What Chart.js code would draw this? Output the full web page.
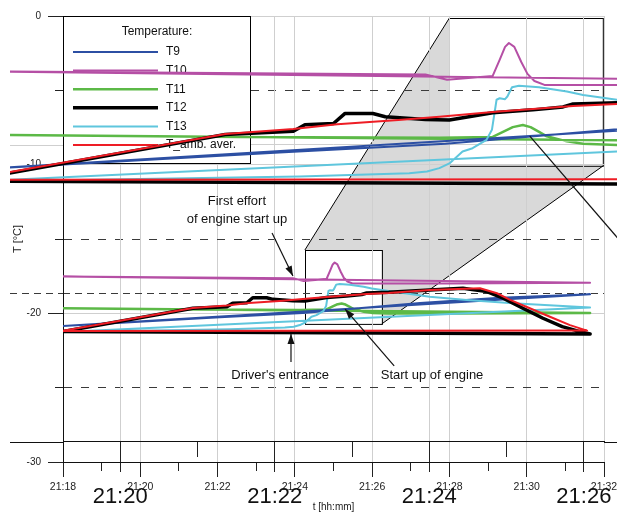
<!DOCTYPE html>
<html>
<head>
<meta charset="utf-8">
<title>Temperature T9 - T13</title>
<script src="https://cdn.jsdelivr.net/npm/chart.js@4/dist/chart.umd.min.js"></script>
<style>
  html, body { margin: 0; padding: 0; background: #fff; }
  #chart { display: block; }
</style>
</head>
<body>
<canvas id="chart" width="617" height="513"></canvas>
<script>
// ---------------- DATA ----------------
// points are [minutes after 21:18, temperature in °C]
const seriesNames = ["T9", "T10", "T11", "T12", "T13", "T_amb. aver."];
const seriesColors = ["#2c4fa3", "#b54fa5", "#5cb947", "#000000", "#5fc6dd", "#ee1d25"];

const T9 = [[0, -20.85], [4.06, -20.26], [6.21, -19.97], [9.24, -19.30], [11.31, -18.96], [13.64, -18.72]];
const T10 = [[0, -17.53], [5.95, -17.64], [6.23, -17.82], [6.82, -17.69], [6.91, -17.15], [6.98, -16.71],
  [7.03, -16.58], [7.10, -16.71], [7.19, -17.22], [7.27, -17.62], [7.36, -17.86], [7.49, -17.99],
  [10.0, -17.99], [13.64, -17.94]];
const T11 = [[0, -19.66], [3.54, -19.74], [6.13, -19.77], [6.82, -19.74], [6.98, -19.54], [7.08, -19.41],
  [7.21, -19.34], [7.31, -19.41], [7.42, -19.57], [7.52, -19.72], [7.78, -19.89], [7.99, -19.97],
  [8.43, -20.01], [10.01, -20.01], [13.64, -19.97]];
const T12 = [[0, -21.22], [3.36, -19.66], [4.24, -19.55], [4.39, -19.33], [4.76, -19.29], [4.91, -18.95],
  [5.27, -18.95], [5.43, -19.06], [5.95, -19.15], [6.26, -19.17], [6.82, -18.93], [7.34, -18.83],
  [7.73, -18.73], [7.86, -18.63], [8.43, -18.59], [9.49, -18.43], [10.35, -18.31], [10.97, -18.54],
  [11.39, -18.98], [11.90, -19.66], [12.42, -20.33], [12.92, -20.89], [13.38, -21.23], [13.64, -21.39]];
const T13 = [[0, -21.25], [4.32, -21.07], [5.74, -20.96], [5.97, -20.90], [6.13, -20.79], [6.26, -20.63],
  [6.43, -20.23], [6.56, -20.12], [6.74, -19.84], [6.81, -19.50], [6.87, -18.49], [6.91, -18.44],
  [6.98, -18.47], [7.01, -18.38], [7.07, -18.07], [7.16, -18.02], [7.42, -18.07], [7.78, -18.21],
  [7.99, -18.33], [8.43, -18.49], [9.49, -18.88], [10.45, -19.10], [11.64, -19.32], [13.64, -19.60]];
const T_amb = [[0, -21.18], [3.36, -19.64], [4.24, -19.47], [4.81, -19.31], [5.60, -19.17], [6.13, -19.06],
  [6.82, -18.90], [7.86, -18.70], [8.43, -18.63], [9.49, -18.43], [10.79, -18.31], [11.23, -18.65],
  [11.57, -19.10], [12.08, -19.66], [12.60, -20.23], [13.12, -20.79], [13.56, -21.16]];

// tick positions and labels
const minuteTicks = [0, 1, 2, 3, 4, 5, 6, 7, 8, 9, 10, 11, 12, 13, 14];
const timeLabels = ["21:18", "21:20", "21:22", "21:24", "21:26", "21:28", "21:30", "21:32"];
const zoomMinuteTicks = [2, 3, 4, 5, 6, 7, 8];
const zoomTimeLabels = ["21:20", "21:22", "21:24", "21:26"];
const tempTicks = [-30, -25, -20, -15, -10, -5, 0];
const zoomTempTicks = [-30, -25, -20];

// the detail window (time from/to, temperature top/bottom)
const zoomBox = { from: 6.26, to: 8.25, top: -15.74, bottom: -20.71 };

const notes = [
  { text: ["First effort", "of engine start up"], at: [4.50, -12.44], arrow: [[5.41, -14.60], [5.95, -17.49]] },
  { text: ["Driver's entrance"], at: [5.62, -24.15], arrow: [[5.90, -23.27], [5.90, -21.39]] },
  { text: ["Start up of engine"], at: [9.55, -24.15], arrow: [[8.57, -23.54], [7.30, -19.71]], zoomed: true }
];

// ---------------- STYLE ----------------
const fontFamily = "'Liberation Sans', Arial, sans-serif";
const lineWidths = [2, 2, 2.5, 3.5, 2, 2];
const drawOrder = [3, 5, 4, 1, 2, 0];
const gridGray = "#cfcfcf";
const dashGray = "#3a3a3a";

Chart.defaults.font.family = fontFamily;
Chart.defaults.color = "#222";

/* --------- helper: trace drawn back to its first sample (as in the source) --------- */
function closedTrace(points) {
  return points.concat([points[0]]).map(p => ({ x: p[0], y: p[1] }));
}

const seriesData = [T9, T10, T11, T12, T13, T_amb];
const datasets = [];
seriesData.forEach((pts, i) => {
  const style = {
    label: seriesNames[i],
    borderColor: seriesColors[i],
    borderWidth: lineWidths[i],
    pointRadius: 0,
    tension: 0,
    fill: false,
    borderJoinStyle: "round",
    order: drawOrder[i]
  };
  // normal view
  datasets.push(Object.assign({}, style, { data: closedTrace(pts), xAxisID: "x", yAxisID: "y" }));
  // magnified view (2x), allowed to run out to the page edges
  datasets.push(Object.assign({}, style, {
    data: closedTrace(pts), xAxisID: "xm", yAxisID: "ym",
    clip: { left: 53, top: 20, right: 13, bottom: 20 }
  }));
});

function setTicks(values) {
  return (scale) => { scale.ticks = values.map(v => ({ value: v })); };
}

/* --------- PLUGIN: zoom frame (grey funnel) --------- */
function rectOf(sx, sy) {
  return {
    l: sx.getPixelForValue(zoomBox.from), r: sx.getPixelForValue(zoomBox.to),
    t: sy.getPixelForValue(zoomBox.top), b: sy.getPixelForValue(zoomBox.bottom)
  };
}

const zoomFrame = {
  id: "zoomFrame",
  beforeDraw(chart) {
    const { ctx } = chart;
    const s = rectOf(chart.scales.x, chart.scales.y);
    const b = rectOf(chart.scales.xm, chart.scales.ym);
    ctx.save();
    ctx.fillStyle = "#d9d9d9";
    ctx.beginPath();
    ctx.moveTo(s.l, s.t);
    ctx.lineTo(b.l, b.t);
    ctx.lineTo(b.r, b.b);
    ctx.lineTo(s.r, s.b);
    ctx.closePath();
    ctx.fill();
    ctx.fillStyle = "#fff";
    ctx.fillRect(s.l, s.t, s.r - s.l, s.b - s.t);
    ctx.fillRect(b.l, b.t, b.r - b.l, b.b - b.t);
    ctx.strokeStyle = "#000";
    ctx.lineWidth = 1;
    ctx.beginPath();
    ctx.moveTo(s.l, s.t); ctx.lineTo(b.l, b.t);
    ctx.moveTo(s.r, s.b); ctx.lineTo(b.r, b.b);
    ctx.stroke();
    ctx.strokeRect(Math.round(s.l) + 0.5, Math.round(s.t) + 0.5, s.r - s.l, s.b - s.t);
    ctx.strokeRect(Math.round(b.l) + 0.5, Math.round(b.t) + 0.5, b.r - b.l, b.b - b.t);
    ctx.restore();
  },
  // the magnified axis and its grid run out to the page edges
  beforeDatasetsDraw(chart) {
    const { ctx, chartArea } = chart;
    const ym = chart.scales.ym;
    const left = chartArea.left - 53, right = chart.width;
    ctx.save();
    ctx.lineWidth = 1;
    const ya = Math.round(ym.getPixelForValue(-30)) + 0.5;
    ctx.strokeStyle = "#111";
    ctx.beginPath();
    ctx.moveTo(left, ya); ctx.lineTo(chartArea.left, ya);
    ctx.moveTo(chartArea.right, ya); ctx.lineTo(right, ya);
    ctx.stroke();
    const yg = Math.round(ym.getPixelForValue(-20)) + 0.5;
    ctx.strokeStyle = gridGray;
    ctx.beginPath();
    ctx.moveTo(left, yg); ctx.lineTo(chartArea.left, yg);
    ctx.stroke();
    const yd = Math.round(ym.getPixelForValue(-25)) + 0.5;
    ctx.strokeStyle = dashGray;
    ctx.setLineDash([7, 5]);
    ctx.beginPath();
    ctx.moveTo(left, yd); ctx.lineTo(chartArea.left, yd);
    ctx.stroke();
    ctx.restore();
  }
};

/* --------- PLUGIN: boxed legend under the traces --------- */
const boxLegend = {
  id: "boxLegend",
  beforeDatasetsDraw(chart) {
    const { ctx, chartArea } = chart;
    const l = chartArea.left, t = chartArea.top, w = 187, h = 147;
    ctx.save();
    ctx.fillStyle = "#fff";
    ctx.fillRect(l, t, w, h);
    ctx.strokeStyle = "#000";
    ctx.lineWidth = 1;
    ctx.strokeRect(Math.round(l) + 0.5, Math.round(t) + 0.5, w, h);
    ctx.font = "12px " + fontFamily;
    ctx.fillStyle = "#111";
    ctx.textBaseline = "middle";
    ctx.textAlign = "center";
    ctx.fillText("Temperature:", l + 94, t + 16);
    ctx.textAlign = "left";
    seriesNames.forEach((name, i) => {
      const yy = t + 36 + i * 18.6;
      ctx.beginPath();
      ctx.moveTo(l + 10, yy);
      ctx.lineTo(l + 95, yy);
      ctx.strokeStyle = seriesColors[i];
      ctx.lineWidth = lineWidths[i];
      ctx.stroke();
      ctx.fillText(name, l + 103, yy);
    });
    ctx.restore();
  }
};

/* --------- PLUGIN: text notes with arrows --------- */
function arrowHead(ctx, x1, y1, x2, y2) {
  const a = Math.atan2(y2 - y1, x2 - x1);
  ctx.beginPath();
  ctx.moveTo(x2, y2);
  ctx.lineTo(x2 - 10 * Math.cos(a) + 3.5 * Math.sin(a), y2 - 10 * Math.sin(a) - 3.5 * Math.cos(a));
  ctx.lineTo(x2 - 10 * Math.cos(a) - 3.5 * Math.sin(a), y2 - 10 * Math.sin(a) + 3.5 * Math.cos(a));
  ctx.closePath();
  ctx.fill();
}

const noteLayer = {
  id: "noteLayer",
  afterDatasetsDraw(chart) {
    const { ctx } = chart;
    const { x, y, xm, ym } = chart.scales;
    ctx.save();
    ctx.fillStyle = "#111";
    ctx.strokeStyle = "#111";
    ctx.lineWidth = 1.2;
    ctx.font = "13px " + fontFamily;
    ctx.textAlign = "center";
    ctx.textBaseline = "middle";
    notes.forEach(n => {
      const tx = x.getPixelForValue(n.at[0]);
      const ty = y.getPixelForValue(n.at[1]);
      n.text.forEach((line, k) => ctx.fillText(line, tx, ty + k * 18.5));
      const x1 = x.getPixelForValue(n.arrow[0][0]), y1 = y.getPixelForValue(n.arrow[0][1]);
      const x2 = x.getPixelForValue(n.arrow[1][0]), y2 = y.getPixelForValue(n.arrow[1][1]);
      ctx.beginPath();
      ctx.moveTo(x1, y1);
      ctx.lineTo(x2, y2);
      ctx.stroke();
      arrowHead(ctx, x1, y1, x2, y2);
      if (n.zoomed) {
        // the same arrow seen through the magnified view
        ctx.beginPath();
        ctx.moveTo(xm.getPixelForValue(n.arrow[1][0]), ym.getPixelForValue(n.arrow[1][1]));
        ctx.lineTo(xm.getPixelForValue(n.arrow[0][0]), ym.getPixelForValue(n.arrow[0][1]));
        ctx.stroke();
      }
    });
    ctx.restore();
  }
};

/* ---------------- CHART ---------------- */
const isEven = (ctx) => ctx.tick && ctx.tick.value % 2 === 0;
const isTens = (ctx) => ctx.tick && ctx.tick.value % 10 === 0;

new Chart(document.getElementById("chart"), {
  type: "line",
  data: { datasets: datasets },
  options: {
    responsive: false,
    animation: false,
    events: [],
    layout: { padding: { left: 0, top: 16, right: 13, bottom: 0 } },
    plugins: { legend: { display: false }, tooltip: { enabled: false } },
    scales: {
      x: {
        type: "linear",
        position: "bottom",
        min: 0,
        max: 14,
        afterBuildTicks: setTicks(minuteTicks),
        afterFit: (s) => { s.height = 51; s.paddingLeft = 0; s.paddingRight = 0; },
        ticks: {
          autoSkip: false,
          maxRotation: 0,
          padding: 4,
          font: { size: 10.5 },
          color: "#222",
          callback: (v) => (v % 2 === 0 ? timeLabels[v / 2] : "")
        },
        grid: {
          color: (ctx) => (isEven(ctx) ? gridGray : "transparent"),
          tickColor: "#222",
          tickLength: 15,
          tickBorderDash: (ctx) => (isEven(ctx) ? [] : [8, 30])
        },
        border: { color: "#111", width: 1 },
        title: { display: true, text: "t [hh:mm]", font: { size: 10 }, color: "#222", padding: { top: 0, bottom: 0 } }
      },
      y: {
        type: "linear",
        position: "left",
        min: -30,
        max: 0,
        afterBuildTicks: setTicks(tempTicks),
        afterFit: (s) => { s.width = 63; },
        ticks: {
          padding: 7,
          font: { size: 10 },
          color: "#222",
          callback: (v) => (v % 10 === 0 ? String(v) : "")
        },
        grid: {
          color: (ctx) => {
            if (!ctx.tick || ctx.tick.value === -30) return "transparent";
            return isTens(ctx) ? gridGray : dashGray;
          },
          tickColor: "#222",
          tickLength: 15,
          tickBorderDash: (ctx) => (isTens(ctx) ? [] : [8, 7]),
          tickBorderDashOffset: (ctx) => (isTens(ctx) ? 0 : 8)
        },
        border: {
          color: "#111",
          width: 1,
          dash: (ctx) => (ctx.tick && !isTens(ctx) ? [8, 9] : [])
        },
        title: { display: true, text: "T [°C]", font: { size: 11 }, color: "#222", padding: { top: 11, bottom: 0 } }
      },
      // magnified copy of the same axes (2x)
      ym: {
        type: "linear",
        position: "left",
        min: -30.673,
        max: -15.673,
        afterBuildTicks: setTicks(zoomTempTicks),
        afterFit: (s) => { s.width = 0; },
        ticks: { display: false },
        grid: {
          drawTicks: false,
          color: (ctx) => {
            if (!ctx.tick || ctx.tick.value === -30) return "transparent";
            return ctx.tick.value === -20 ? gridGray : dashGray;
          }
        },
        border: {
          display: false,
          dash: (ctx) => (ctx.tick && ctx.tick.value === -25 ? [7, 5] : [])
        }
      },
      xm: {
        type: "linear",
        position: { ym: -30 },
        min: 1.2603,
        max: 8.2602,
        afterBuildTicks: setTicks(zoomMinuteTicks),
        afterFit: (s) => { s.paddingLeft = 0; s.paddingRight = 0; },
        ticks: {
          autoSkip: false,
          maxRotation: 0,
          padding: 12,
          font: { size: 22 },
          color: "#111",
          callback: (v) => (v % 2 === 0 ? zoomTimeLabels[(v - 2) / 2] : "")
        },
        grid: {
          color: (ctx) => (isEven(ctx) ? gridGray : "transparent"),
          tickColor: "#222",
          tickLength: 30,
          tickBorderDash: (ctx) => (isEven(ctx) ? [] : [15, 30])
        },
        border: { color: "#111", width: 1 }
      }
    }
  },
  plugins: [zoomFrame, boxLegend, noteLayer]
});
</script>
</body>
</html>
